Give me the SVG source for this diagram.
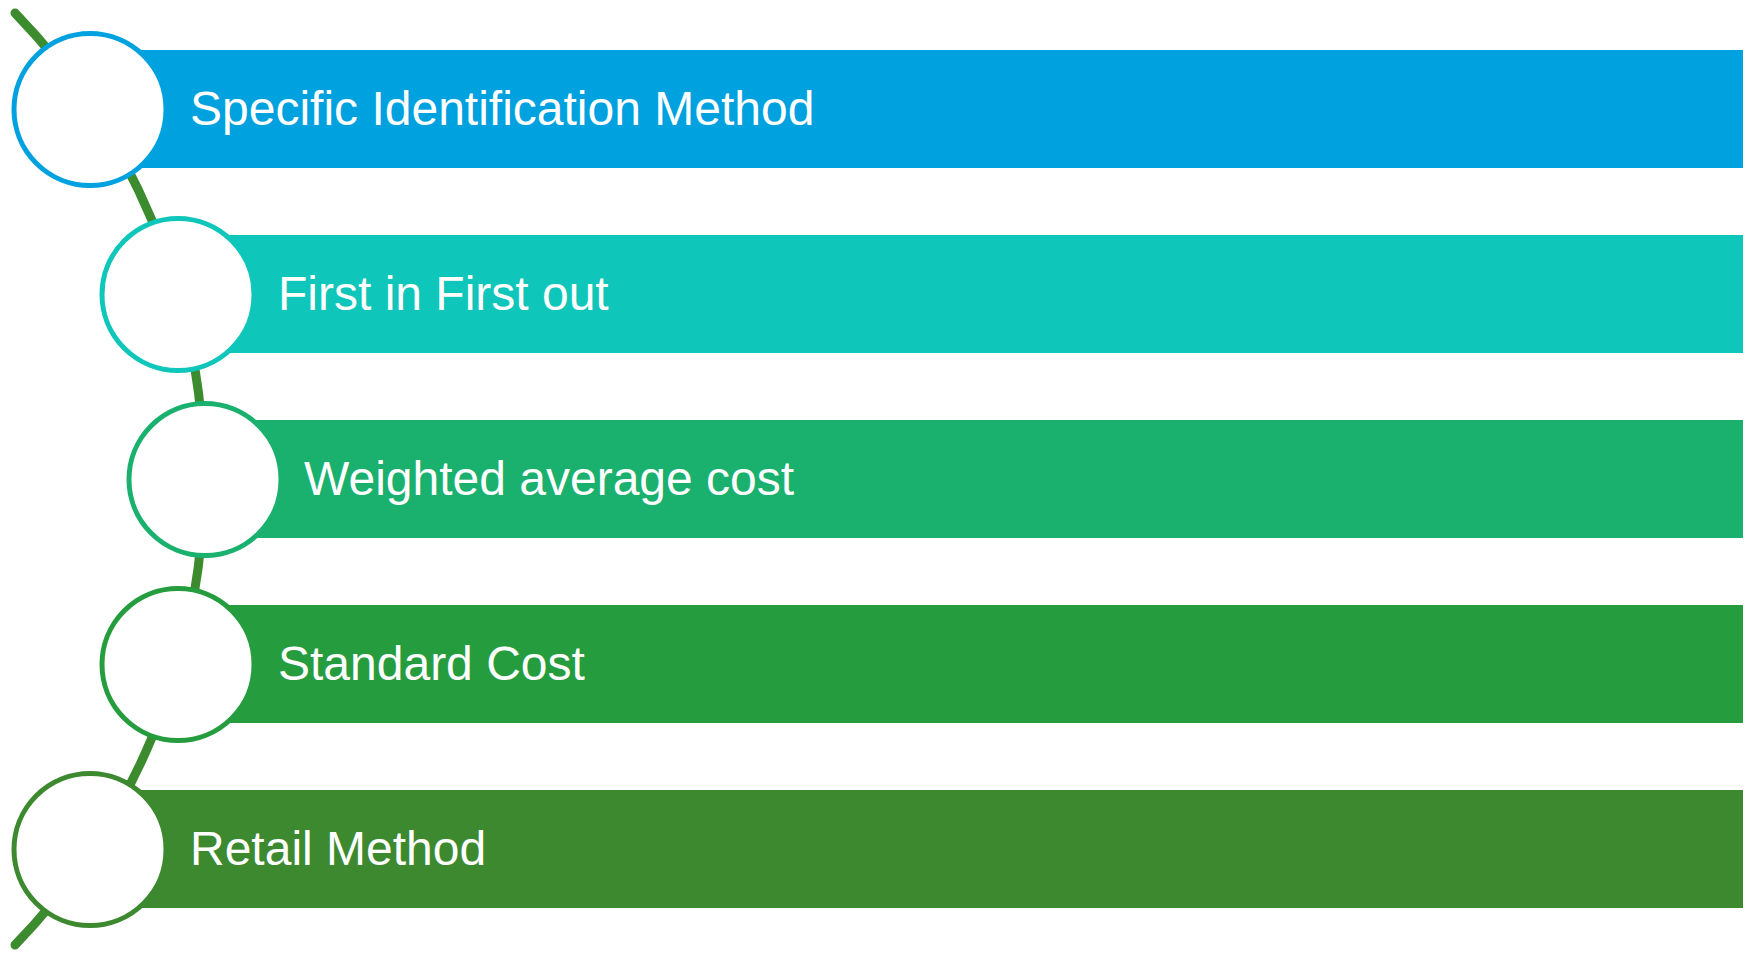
<svg xmlns="http://www.w3.org/2000/svg" width="1748" height="953" viewBox="0 0 1748 953">
  <style>
    .bar-label { font-family: "Liberation Sans", Arial, sans-serif; font-size: 48px; fill: #ffffff; }
    .ring { fill: #ffffff; stroke-width: 5; }
    .spine { fill: none; stroke: #3D8B2F; stroke-width: 9; stroke-linecap: round; }
  </style>
  <rect width="1748" height="953" fill="#ffffff"/>

  <!-- curved spine behind the rings -->
  <g id="connectors">
    <path class="spine" d="M15 13 A669 669 0 0 1 15 945"/>
  </g>

  <g id="node-specific">
    <rect x="120" y="50" width="1623" height="118" fill="#00A1DF"/>
    <circle class="ring" cx="90" cy="109.5" r="76" stroke="#00A1DF"/>
    <text class="bar-label" x="190" y="125">Specific Identification Method</text>
  </g>

  <g id="node-fifo">
    <rect x="208" y="235" width="1535" height="118" fill="#0EC6B9"/>
    <circle class="ring" cx="178" cy="294.5" r="76" stroke="#0EC6B9"/>
    <text class="bar-label" x="278" y="310">First in First out</text>
  </g>

  <g id="node-weighted">
    <rect x="234" y="420" width="1509" height="118" fill="#1AB06E"/>
    <circle class="ring" cx="205" cy="479.5" r="76" stroke="#1AB06E"/>
    <text class="bar-label" x="304" y="495">Weighted average cost</text>
  </g>

  <g id="node-standard">
    <rect x="208" y="605" width="1535" height="118" fill="#259D3E"/>
    <circle class="ring" cx="178" cy="664.5" r="76" stroke="#259D3E"/>
    <text class="bar-label" x="278" y="680">Standard Cost</text>
  </g>

  <g id="node-retail">
    <rect x="120" y="790" width="1623" height="118" fill="#3C8930"/>
    <circle class="ring" cx="90" cy="849.5" r="76" stroke="#3C8930"/>
    <text class="bar-label" x="190" y="865">Retail Method</text>
  </g>
</svg>
